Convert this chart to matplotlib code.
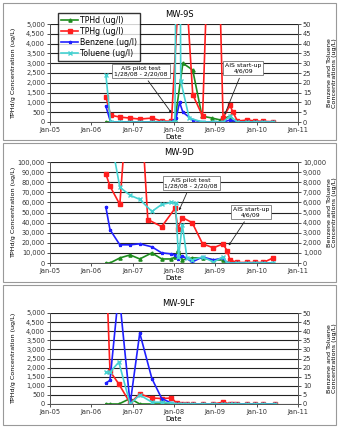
import matplotlib
matplotlib.use('Agg')
import matplotlib.pyplot as plt
import matplotlib.dates as mdates
from matplotlib.ticker import FuncFormatter, MultipleLocator
from matplotlib.patches import Rectangle
import pandas as pd

# ---- MW-9S ----
s_tphd_dates = ['2006-05-10', '2006-06-20', '2006-09-10', '2006-12-10', '2007-03-05', '2007-06-20',
                '2007-09-15', '2007-12-10', '2008-01-10', '2008-03-20', '2008-06-15', '2008-09-05',
                '2008-12-05', '2009-02-15', '2009-05-10', '2009-06-05', '2009-07-15', '2009-10-10',
                '2009-12-20', '2010-03-01', '2010-05-25']
s_tphd = [0, 0, 0, 0, 0, 0, 0, 0, 80, 3000, 2650, 300, 200, 100, 300, 0, 0, 50, 0, 0, 0]

s_tphg_dates = ['2006-05-10', '2006-06-20', '2006-09-10', '2006-12-10', '2007-03-05', '2007-06-20',
                '2007-09-15', '2007-12-10', '2008-03-15', '2008-06-15', '2008-09-10', '2008-12-20',
                '2009-03-10', '2009-05-10', '2009-06-05', '2009-07-15', '2009-10-10', '2009-12-20',
                '2010-03-01', '2010-05-25']
s_tphg = [1300, 350, 250, 200, 150, 200, 50, 30, 10000, 1400, 300, 18000, 200, 850, 500, 50, 100, 50, 30, 20]

s_benz_dates = ['2006-05-10', '2006-06-20', '2006-09-10', '2006-12-10', '2007-03-05', '2007-06-20',
                '2007-09-15', '2007-12-10', '2008-01-20', '2008-02-20', '2008-03-20', '2008-06-15',
                '2008-09-10', '2008-12-20', '2009-03-10', '2009-05-10', '2009-07-15', '2009-10-10',
                '2009-12-20', '2010-03-01', '2010-05-25']
s_benz = [8, 0, 0, 0, 0, 0, 0, 0, 2, 10, 5, 1, 0, 0, 0, 1, 0, 0, 0, 0, 0]

s_tol_dates = ['2006-05-10', '2006-06-20', '2006-09-10', '2006-12-10', '2007-03-05', '2007-06-20',
               '2007-09-15', '2007-12-10', '2008-01-10', '2008-02-10', '2008-03-01', '2008-05-15',
               '2008-09-10', '2008-12-20', '2009-03-10', '2009-05-10', '2009-07-15', '2009-10-10',
               '2009-12-20', '2010-03-01', '2010-05-25']
s_tol = [24, 0, 0, 0, 0, 0, 0, 0, 0, 300, 21, 2, 0, 0, 0, 3, 0, 0, 0, 0, 0]

# ---- MW-9D ----
d_tphd_dates = ['2006-05-10', '2006-06-15', '2006-09-10', '2006-12-10', '2007-03-05', '2007-06-20',
                '2007-09-15', '2007-12-10', '2008-01-10', '2008-02-10', '2008-03-15', '2008-06-10',
                '2008-09-10', '2008-12-15', '2009-03-10', '2009-04-15', '2009-07-15', '2009-10-10',
                '2009-12-20', '2010-03-01', '2010-05-25']
d_tphd = [0, 0, 5000, 8000, 4000, 10000, 4000, 4000, 6000, 13000, 3000, 5000, 5000, 3000, 3000,
          0, 0, 0, 0, 0, 0]
d_benz = [5500, 3300, 1800, 1800, 1900, 1600, 1000, 900, 800, 400, 700, 100, 600, 300, 500,
          0, 0, 0, 0, 0, 0]

d_tphg_dates = ['2006-05-10', '2006-06-15', '2006-09-10', '2007-01-20', '2007-05-15', '2007-09-15',
                '2008-01-10', '2008-02-05', '2008-03-15', '2008-06-10', '2008-09-10', '2008-12-15',
                '2009-03-10', '2009-04-15', '2009-05-10', '2009-07-15', '2009-10-10', '2009-12-20',
                '2010-03-01', '2010-05-25']
d_tphg = [88000, 76000, 58000, 260000, 43000, 36000, 54000, 34000, 45000, 40000, 19000, 15000,
          19000, 12000, 3000, 500, 500, 500, 500, 5000]

d_tol_dates = ['2006-05-10', '2006-09-10', '2006-12-10', '2007-03-05', '2007-06-20', '2007-09-15',
               '2007-12-10', '2008-01-15', '2008-02-10', '2008-03-15', '2008-04-25', '2008-06-10',
               '2008-09-10', '2008-12-15', '2009-03-10', '2009-04-15', '2009-07-15', '2009-10-10',
               '2009-12-20', '2010-03-01', '2010-05-25']
d_tol = [15000, 7500, 6700, 6300, 5100, 5800, 6000, 5900, 600, 3800, 500, 300, 600, 100, 600,
         0, 0, 0, 0, 0, 0]

# ---- MW-9LF ----
lf_dates = ['2006-05-10', '2006-06-15', '2006-09-01', '2006-12-10', '2007-03-05', '2007-06-20',
            '2007-09-15', '2007-12-10', '2008-01-25', '2008-03-15', '2008-04-25', '2008-06-15',
            '2008-09-10', '2008-12-15', '2009-03-10', '2009-05-10', '2009-06-05', '2009-07-15',
            '2009-10-10', '2009-12-20', '2010-03-01', '2010-06-10']
lf_tphd = [0, 0, 0, 300, 0, 0, 0, 0, 0, 0, 0, 0, 0, 0, 0, 0, 0, 0, 0, 0, 0, 0]
lf_tphg = [8000, 1800, 1100, 50, 550, 330, 300, 330, 50, 0, 0, 0, 0, 0, 100, 0, 0, 0, 0, 0, 0, 0]
lf_benz = [11.5, 13, 62, 0, 39, 14, 3, 0.5, 0, 0, 0, 0, 0, 0, 0, 0, 0, 0, 0, 0, 0, 0]
lf_tol = [17.5, 17.5, 23, 0, 5, 1, 1, 0.5, 0, 0, 0, 0, 0, 0, 0, 0, 0, 0, 0, 0, 0, 0]

green = '#1e8c1e'
red = '#ff1e1e'
blue = '#2020ff'
cyan = '#45d2d2'

W, H = 339, 428
fig = plt.figure(figsize=(W / 100, H / 100), dpi=100)


def fig_box(top, bottom):
    fig.patches.append(Rectangle((3 / W, 1 - bottom / H), 333 / W, (bottom - top) / H,
                                 transform=fig.transFigure, fill=False, edgecolor='#999999', lw=0.8))


def make_panel(top, bottom, title, left_max, left_step, right_max, right_step):
    ax = fig.add_axes([50 / W, 1 - bottom / H, 248 / W, (bottom - top) / H])
    ax2 = ax.twinx()
    ax.set_ylim(0, left_max)
    ax2.set_ylim(0, right_max)
    ax.yaxis.set_major_locator(MultipleLocator(left_step))
    ax2.yaxis.set_major_locator(MultipleLocator(right_step))
    ax.yaxis.set_major_formatter(FuncFormatter(lambda v, p: f'{v:,.0f}'))
    ax2.yaxis.set_major_formatter(FuncFormatter(lambda v, p: f'{v:,.0f}'))
    ax.set_xlim(pd.Timestamp('2005-01-01'), pd.Timestamp('2011-01-01'))
    ax.xaxis.set_major_locator(mdates.YearLocator())
    ax.xaxis.set_major_formatter(mdates.DateFormatter('%b-%y'))
    ax.grid(axis='y', color='#222222', lw=0.8)
    ax.set_axisbelow(True)
    for a in (ax, ax2):
        a.spines['top'].set_visible(False)
        for s in a.spines.values():
            s.set_color('#555555')
            s.set_linewidth(0.7)
        a.tick_params(labelsize=4.8, length=2, width=0.6, colors='#333333', pad=1.5)
    ax.set_ylabel('TPHd/g Concentration (ug/L)', fontsize=4.6)
    ax.yaxis.set_label_coords(-0.135, 0.5)
    ax2.set_ylabel('Benzene and Toluene\nConcentrations (ug/L)', fontsize=4.6, rotation=90)
    ax2.yaxis.set_label_coords(1.115, 0.5)
    ax.set_xlabel('Date', fontsize=5, labelpad=0.5)
    ax.set_title(title, fontsize=6, pad=5, x=0.52)
    return ax, ax2


def draw(ax, dates, vals, color, marker, label):
    return ax.plot(pd.to_datetime(dates), vals, color=color, lw=1.2, marker=marker,
                   ms=2.3, mec=color, mfc=color, label=label, clip_on=True)[0]


def note(ax, text, xy_date, xy_val, tx, ty):
    ax.annotate(text, xy=(pd.Timestamp(xy_date), xy_val), xytext=(tx, ty), textcoords='axes fraction',
                fontsize=4.4, ha='center', va='center', zorder=10,
                bbox=dict(boxstyle='square,pad=0.3', fc='white', ec='#777777', lw=0.6),
                arrowprops=dict(arrowstyle='-|>', color='#222222', lw=0.6, mutation_scale=3))


# panel 1
fig_box(3, 140)
ax, ax2 = make_panel(24, 122, 'MW-9S', 5000, 500, 50, 5)
h1 = draw(ax, s_tphd_dates, s_tphd, green, '^', 'TPHd (ug/l)')
h2 = draw(ax, s_tphg_dates, s_tphg, red, 's', 'TPHg (ug/l)')
h3 = draw(ax2, s_benz_dates, s_benz, blue, '*', 'Benzene (ug/l)')
h4 = draw(ax2, s_tol_dates, s_tol, cyan, 'x', 'Toluene (ug/l)')
note(ax, 'AIS pilot test\n1/28/08 - 2/20/08', '2007-12-25', 350, 0.367, 0.52)
note(ax, 'AIS start-up\n4/6/09', '2009-03-15', 250, 0.78, 0.55)
fig.legend(handles=[h1, h2, h3, h4], loc='center', bbox_to_anchor=(99 / W, 1 - 37 / H),
           bbox_transform=fig.transFigure, fontsize=5.6, frameon=True, fancybox=False,
           edgecolor='black', handlelength=2.2, labelspacing=0.25, borderpad=0.4, handletextpad=0.2)

# panel 2
fig_box(143, 282)
ax, ax2 = make_panel(162, 263, 'MW-9D', 100000, 10000, 10000, 1000)
draw(ax, d_tphd_dates, d_tphd, green, '^', 'TPHd (ug/l)')
draw(ax, d_tphg_dates, d_tphg, red, 's', 'TPHg (ug/l)')
draw(ax2, d_tphd_dates, d_benz, blue, '*', 'Benzene (ug/l)')
draw(ax2, d_tol_dates, d_tol, cyan, 'x', 'Toluene (ug/l)')
note(ax, 'AIS pilot test\n1/28/08 - 2/20/08', '2008-02-05', 49500, 0.569, 0.79)
note(ax, 'AIS start-up\n4/6/09', '2009-04-15', 15000, 0.81, 0.505)

# panel 3
fig_box(285, 425)
ax, ax2 = make_panel(313, 404, 'MW-9LF', 5000, 500, 50, 5)
draw(ax, lf_dates, lf_tphd, green, '^', 'TPHd (ug/l)')
draw(ax, lf_dates, lf_tphg, red, 's', 'TPHg (ug/l)')
draw(ax2, lf_dates, lf_benz, blue, '*', 'Benzene (ug/l)')
draw(ax2, lf_dates, lf_tol, cyan, 'x', 'Toluene (ug/l)')

fig.savefig('out.png', dpi=100)
